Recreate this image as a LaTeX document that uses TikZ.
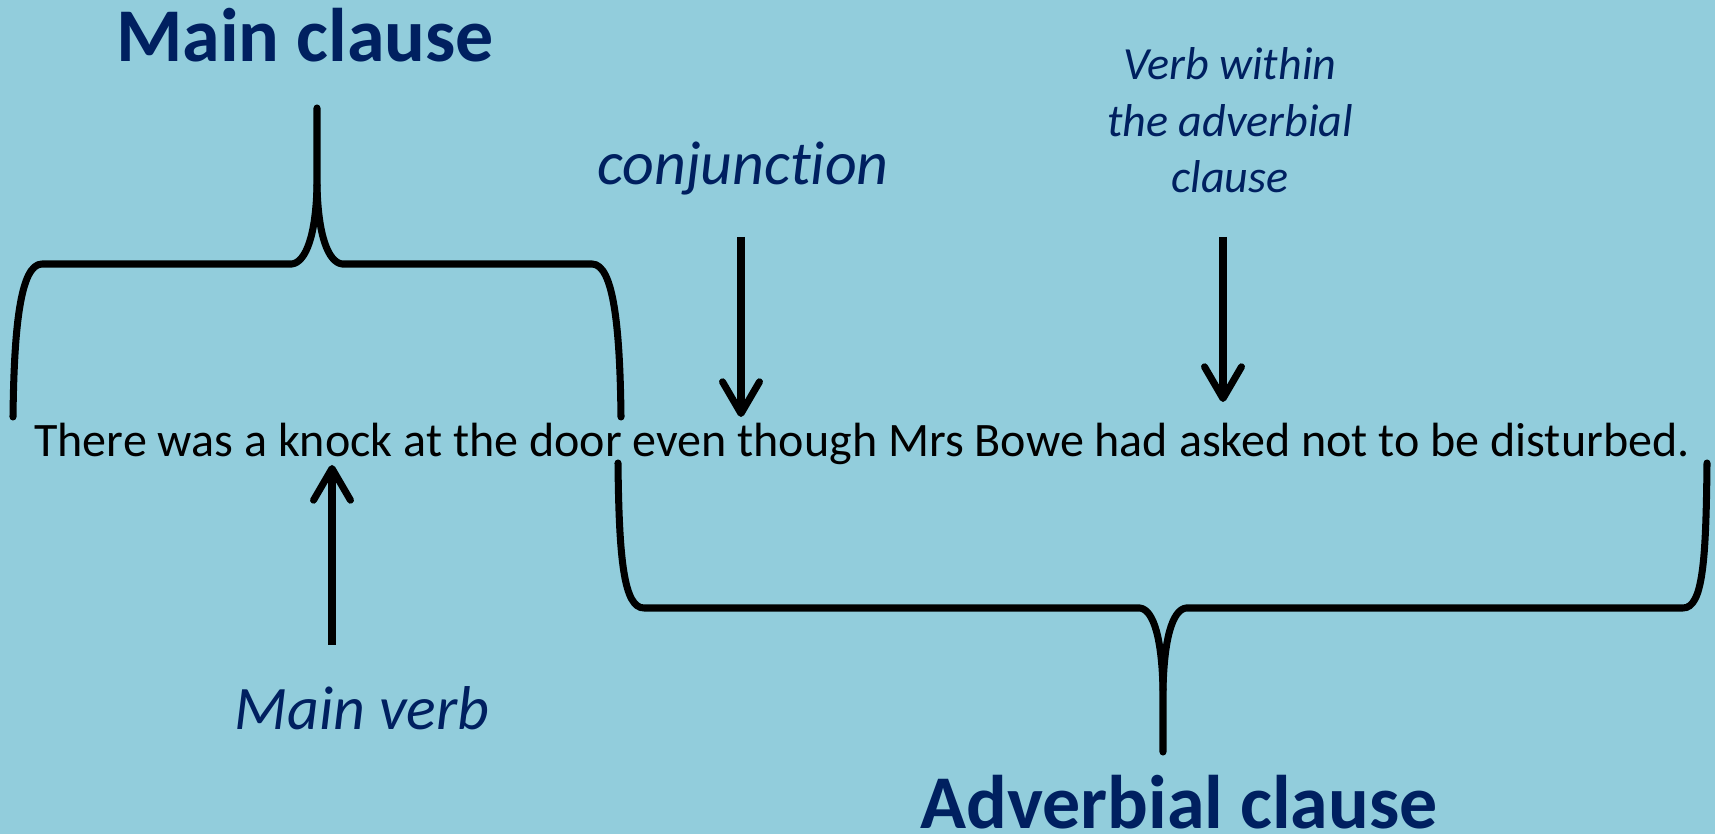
\documentclass[tikz,border=0pt]{standalone}
\usepackage{fontspec}
\setmainfont{Carlito}[Ligatures=NoCommon]
\usetikzlibrary{arrows.meta}
\definecolor{slideblue}{HTML}{92CDDC}
\definecolor{labelnavy}{HTML}{002060}
\begin{document}
\begin{tikzpicture}[x=0.01cm,y=-0.01cm,
		brace/.style={line width=2pt,line cap=round,line join=round},
		pointer/.style={line width=2pt,-{Straight Barb[length=9pt,width=10.5pt,round]}},
		title/.style={font=\fontsize{21.6}{26}\selectfont\bfseries,text=labelnavy,inner sep=0pt,anchor=base},
		tag/.style={font=\fontsize{17.6}{21}\selectfont\itshape,text=labelnavy,inner sep=0pt,anchor=base}]
		\fill[slideblue] (0,0) rectangle (1715,834);
		\useasboundingbox (0,0) rectangle (1715,834);
		% Sentence
		\node[font=\fontsize{13.66}{16}\selectfont,inner sep=0pt,anchor=base] (sentence) at (862,457) {There was a knock at the door even though Mrs Bowe had asked not to be disturbed.};
		% Titles
		\node[title] (mainclause) at (305,62) {Main clause};
		\node[title] (advclause) at (1179,828) {Adverbial clause};
		% Labels
		\node[tag] (conj) at (743,185) {conjunction};
		\node[tag] (mainverb) at (362,730) {Main verb};
		\node[tag,font=\fontsize{13.1}{16.2}\selectfont\itshape,align=center] (advverb) at (1230,193) {Verb within\\the adverbial\\clause};
		% Brace over the main clause
		\draw[brace] (13,417) .. controls (14,330) and (20,264) .. (42,264) -- (292,264)
			.. controls (306,262) and (316,235) .. (317,185) -- (317,108);
		\draw[brace] (317,185) .. controls (318,235) and (328,262) .. (342,264) -- (592,264)
			.. controls (614,264) and (620,330) .. (621,417);
		% Brace under the adverbial clause
		\draw[brace] (618,463) .. controls (619,560) and (624,608) .. (644,608) -- (1140,608)
			.. controls (1154,610) and (1162,640) .. (1163,690) -- (1163,752);
		\draw[brace] (1163,690) .. controls (1164,640) and (1172,610) .. (1186,608) -- (1683,608)
			.. controls (1703,608) and (1706,560) .. (1707,463);
		% Arrows
		\coordinate (conjtail) at (741,237);
		\coordinate (conjhead) at (741,417);
		\coordinate (verbtail) at (1223,237);
		\coordinate (verbhead) at (1223,402);
		\coordinate (maintail) at (332,645);
		\coordinate (mainhead) at (332,465);
		\draw[pointer] (conjtail) -- (conjhead);
		\draw[pointer] (verbtail) -- (verbhead);
		\draw[pointer] (maintail) -- (mainhead);
\end{tikzpicture}
\end{document}
